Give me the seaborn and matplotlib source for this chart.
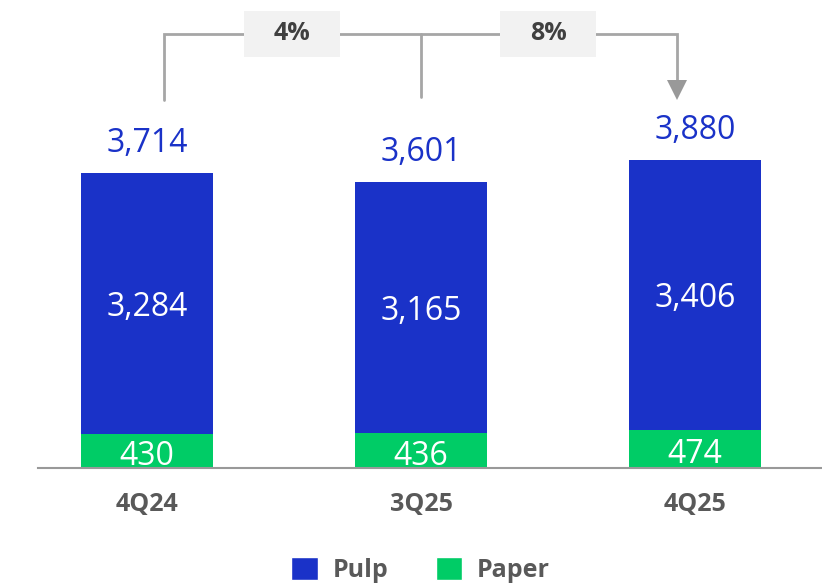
import matplotlib
matplotlib.use("Agg")
import matplotlib.pyplot as plt
import seaborn as sns
import pandas as pd
from matplotlib.patches import Patch, Rectangle

# Data
quarters = ["4Q24", "3Q25", "4Q25"]
pulp = [3284, 3165, 3406]
paper = [430, 436, 474]
growth_labels = ["4%", "8%"]

totals = [p + q for p, q in zip(pulp, paper)]
df = pd.DataFrame({"quarter": quarters, "pulp": pulp, "paper": paper, "total": totals})

blue = "#1a32c8"
green = "#00cc66"
grey_line = "#a6a6a6"
grey_text = "#595959"

sns.set_style("white")
plt.rcParams["font.family"] = ["Open Sans", "DejaVu Sans"]

fig = plt.figure(figsize=(8.22, 5.87), dpi=100)
ax = fig.add_axes([38 / 822, 119 / 587, 784 / 822, 468 / 587])

# stacked bars: total in blue, paper on top of it in green
sns.barplot(data=df, x="quarter", y="total", color=blue, width=0.48, ax=ax,
            saturation=1, linewidth=0)
sns.barplot(data=df, x="quarter", y="paper", color=green, width=0.48, ax=ax,
            saturation=1, linewidth=0)

ax.set_xlim(-0.398, 2.464)
ax.set_ylim(0, 5887)

for i in range(len(quarters)):
    ax.text(i, totals[i] + 365, f"{totals[i]:,}", ha="center", va="center",
            fontsize=23, color=blue)
    ax.text(i, paper[i] + pulp[i] / 2 - 50, f"{pulp[i]:,}", ha="center", va="center",
            fontsize=23, color="white")
    ax.text(i, paper[i] / 2 - 70, f"{paper[i]:,}", ha="center", va="center",
            fontsize=23, color="white")

# growth bracket
top_y = 5460
leg_y = 4630
left_x, mid_x, right_x = 0.062, 1.0, 1.934
ax.plot([left_x, left_x, right_x, right_x], [leg_y, top_y, top_y, leg_y + 250],
        color=grey_line, lw=2, solid_joinstyle="miter", zorder=2)
ax.plot([mid_x, mid_x], [top_y, leg_y + 40], color=grey_line, lw=2, zorder=2)
ax.plot([right_x], [leg_y + 130], marker="v", markersize=15, color="#999999",
        markeredgewidth=0, zorder=3)

box_w, box_h = 0.35, 580
for cx, lab in zip([0.529, 1.464], growth_labels):
    ax.add_patch(Rectangle((cx - box_w / 2, top_y - box_h / 2), box_w, box_h,
                           facecolor="#f2f2f2", edgecolor="none", zorder=4))
    ax.text(cx, top_y, lab, ha="center", va="center", fontsize=18,
            fontweight="bold", color="#404040", zorder=5)

sns.despine(ax=ax, left=True, top=True, right=True)
ax.spines["bottom"].set_color("#999999")
ax.spines["bottom"].set_linewidth(1.5)
ax.set_yticks([])
ax.set_xlabel("")
ax.set_ylabel("")
ax.tick_params(axis="x", length=0, pad=17)
for t in ax.get_xticklabels():
    t.set_fontsize(18)
    t.set_fontweight("bold")
    t.set_color(grey_text)

handles = [Patch(facecolor=blue, label="Pulp"), Patch(facecolor=green, label="Paper")]
leg = fig.legend(handles=handles, loc="center", bbox_to_anchor=(0.512, 1 - 570 / 587),
                 ncol=2, frameon=False, fontsize=18, handlelength=1.05, handleheight=1.05,
                 handletextpad=0.6, columnspacing=1.9)
for t in leg.get_texts():
    t.set_fontweight("bold")
    t.set_color(grey_text)

fig.savefig("out.png", dpi=100)
